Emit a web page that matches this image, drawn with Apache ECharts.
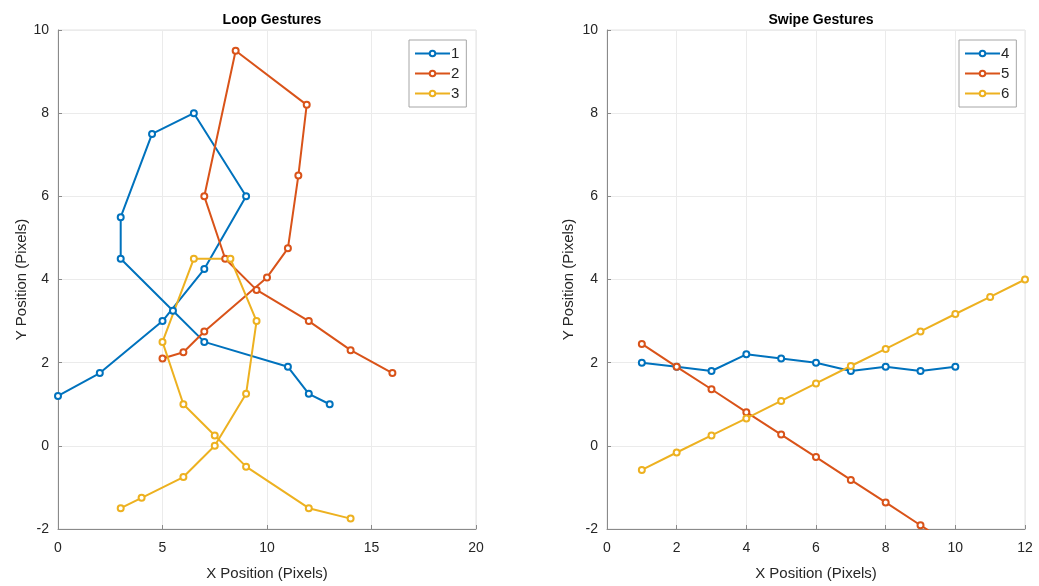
<!DOCTYPE html>
<html>
<head>
<meta charset="utf-8">
<script src="https://cdn.jsdelivr.net/npm/echarts@6/dist/echarts.min.js"></script>
<style>
  html, body { margin: 0; padding: 0; background: #fff; }
  #chart { width: 1039px; height: 586px; }
</style>
</head>
<body>
<div id="chart"></div>
<script>
// loop gestures, [x, y] in path order
const loop1 = [[0, 1.2], [2, 1.75], [5, 3], [7, 4.25], [9, 6], [6.5, 8], [4.5, 7.5], [3, 5.5], [3, 4.5], [5.5, 3.25], [7, 2.5], [11, 1.9], [12, 1.25], [13, 1]];
const loop2 = [[5, 2.1], [6, 2.25], [7, 2.75], [10, 4.05], [11, 4.75], [11.5, 6.5], [11.9, 8.2], [8.5, 9.5], [7, 6], [8, 4.5], [9.5, 3.75], [12, 3], [14, 2.3], [16, 1.75]];
const loop3 = [[3, -1.5], [4, -1.25], [6, -0.75], [7.5, 0], [9, 1.25], [9.5, 3], [8.25, 4.5], [6.5, 4.5], [5, 2.5], [6, 1], [7.5, 0.25], [9, -0.5], [12, -1.5], [14, -1.75]];

// swipe gestures
const swipeX = [1, 2, 3, 4, 5, 6, 7, 8, 9, 10, 11, 12];
const swipe4 = [2, 1.9, 1.8, 2.2, 2.1, 2, 1.8, 1.9, 1.8, 1.9];
const swipe5 = [2.45, 1.9, 1.36, 0.81, 0.27, -0.27, -0.82, -1.36, -1.91, -2.45];
const swipe6 = [-0.58, -0.16, 0.25, 0.66, 1.08, 1.5, 1.92, 2.33, 2.75, 3.17, 3.58, 4];

const colors = ['#0072BD', '#D95319', '#EDB120'];
const textColor = '#262626';
const font = 'Liberation Sans, Arial, sans-serif';

const chart = echarts.init(document.getElementById('chart'), null, { renderer: 'canvas' });

const pair = (ys) => ys.map((y, i) => [swipeX[i], y]);

function xAxis(gridIndex, max, interval) {
    return {
        type: 'value',
        gridIndex,
        min: 0,
        max,
        interval,
        name: 'X Position (Pixels)',
        nameLocation: 'middle',
        nameGap: 37,
        nameTextStyle: { color: textColor, fontSize: 15, fontFamily: font },
        axisLine: { show: true, onZero: false, lineStyle: { color: '#8a8a8a', width: 1 } },
        axisTick: { show: true, inside: true, length: 4, lineStyle: { color: '#8a8a8a' } },
        axisLabel: { color: textColor, fontSize: 14, fontFamily: font, margin: 12 },
        splitLine: { show: true, lineStyle: { color: '#ebebeb', width: 1 } },
    };
}

function yAxis(gridIndex, nameGap) {
    return {
        type: 'value',
        gridIndex,
        min: -2,
        max: 10,
        interval: 2,
        name: 'Y Position (Pixels)',
        nameLocation: 'middle',
        nameGap,
        nameTextStyle: { color: textColor, fontSize: 15, fontFamily: font },
        axisLine: { show: true, onZero: false, lineStyle: { color: '#8a8a8a', width: 1 } },
        axisTick: { show: true, inside: true, length: 4, lineStyle: { color: '#8a8a8a' } },
        axisLabel: { color: textColor, fontSize: 14, fontFamily: font, margin: 9 },
        splitLine: { show: true, lineStyle: { color: '#ebebeb', width: 1 } },
    };
}

function lineSeries(name, data, colorIndex, axisIndex) {
    return {
        name,
        type: 'line',
        xAxisIndex: axisIndex,
        yAxisIndex: axisIndex,
        data,
        color: colors[colorIndex],
        symbol: 'emptyCircle',
        symbolSize: 6,
        showAllSymbol: true,
        clip: true,
        lineStyle: { width: 2 },
        itemStyle: { borderWidth: 1.5 },
        animation: false,
    };
}

function legend(left, names) {
    return {
        data: names,
        orient: 'vertical',
        left,
        top: 40,
        itemWidth: 35,
        itemHeight: 7,
        itemGap: 5,
        padding: [6, 7, 6, 5],
        backgroundColor: '#fff',
        borderColor: '#a6a6a6',
        borderWidth: 1,
        borderRadius: 0,
        textStyle: { color: textColor, fontSize: 15, fontFamily: font, padding: [0, 0, 0, -4] },
    };
}

const option = {
    backgroundColor: '#fff',
    title: [
        { text: 'Loop Gestures', left: 267, top: 8, textAlign: 'center',
          textStyle: { fontSize: 14, fontWeight: 'bold', color: '#000', fontFamily: font } },
        { text: 'Swipe Gestures', left: 816, top: 8, textAlign: 'center',
          textStyle: { fontSize: 14, fontWeight: 'bold', color: '#000', fontFamily: font } },
    ],
    grid: [
        { left: 58, top: 30, width: 418, height: 499, show: true, borderColor: '#e3e3e3', borderWidth: 1 },
        { left: 607, top: 30, width: 418, height: 499, show: true, borderColor: '#e3e3e3', borderWidth: 1 },
    ],
    xAxis: [xAxis(0, 20, 5), xAxis(1, 12, 2)],
    yAxis: [yAxis(0, 27), yAxis(1, 31)],
    legend: [legend(409, ['1', '2', '3']), legend(959, ['4', '5', '6'])],
    series: [
        lineSeries('1', loop1, 0, 0),
        lineSeries('2', loop2, 1, 0),
        lineSeries('3', loop3, 2, 0),
        lineSeries('4', pair(swipe4), 0, 1),
        lineSeries('5', pair(swipe5), 1, 1),
        lineSeries('6', pair(swipe6), 2, 1),
    ],
};

chart.setOption(option);
</script>
</body>
</html>
